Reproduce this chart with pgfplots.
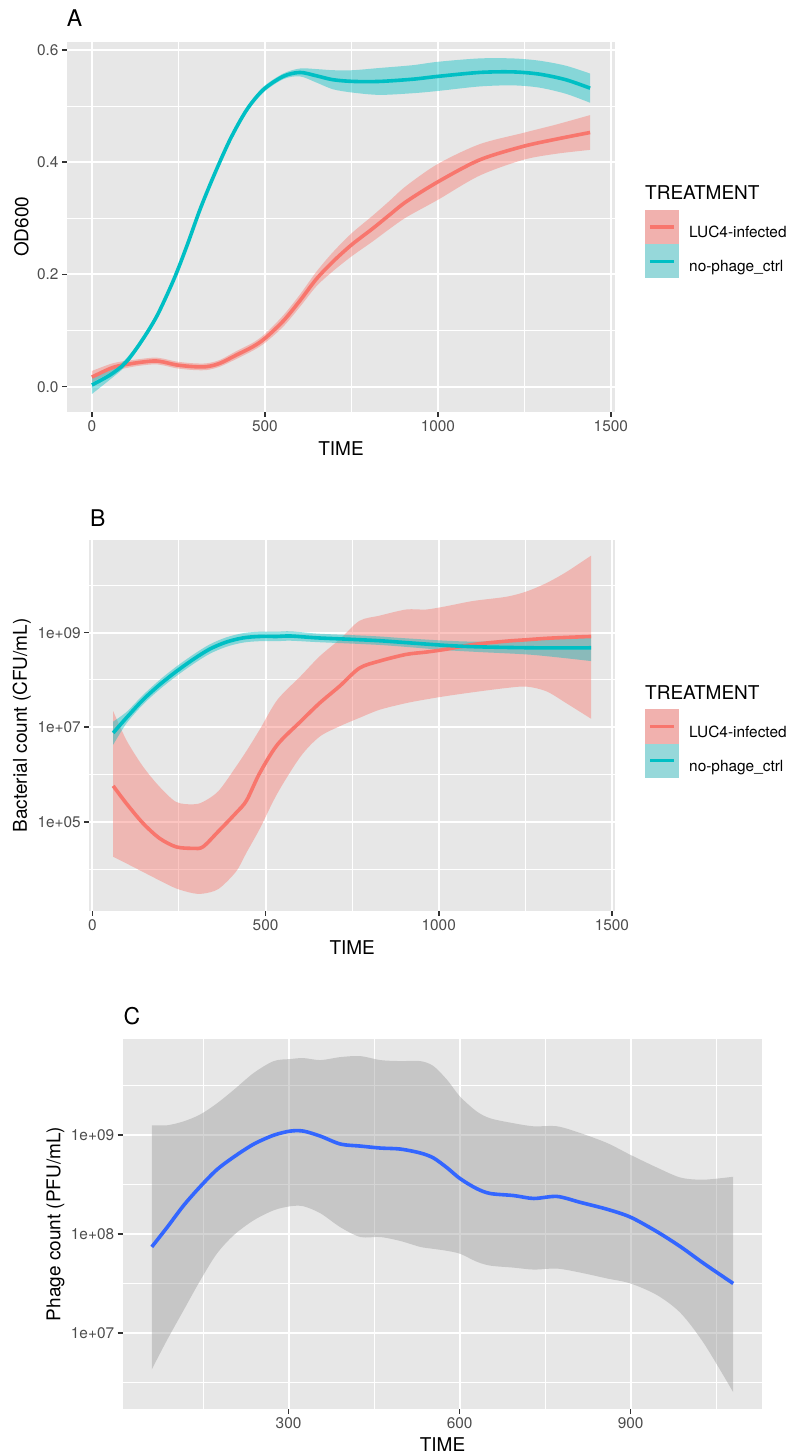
\documentclass[border=0pt]{standalone}
\usepackage{fontspec}
\setmainfont{TeX Gyre Heros}
\usepackage{pgfplots}
\usepackage{pgfplotstable}
\pgfplotsset{compat=1.18}
\usepgfplotslibrary{fillbetween}

\definecolor{panelbg}{HTML}{E7E7E7}
\definecolor{tickgrey}{HTML}{333333}
\definecolor{labgrey}{HTML}{4D4D4D}
\definecolor{infred}{HTML}{F8766D}
\definecolor{ctrlteal}{HTML}{00BFC4}
\definecolor{keyred}{HTML}{F1B1AE}
\definecolor{keyteal}{HTML}{96D8DA}
\definecolor{smoothblue}{HTML}{3366FF}
\definecolor{ribbongrey}{HTML}{999999}

\newcommand{\tickfont}{\fontsize{15.4}{18}\selectfont}
\newcommand{\titlefont}{\fontsize{19}{22}\selectfont}
\newcommand{\tagfont}{\fontsize{23}{27}\selectfont}

% ---- A: OD600 loess fits (x, lower CI, fit, upper CI)
\pgfplotstableread{
x    lo     mid    hi
0    0.007  0.017  0.028
62   0.027  0.0345 0.042
120  0.0357 0.0417 0.0477
178  0.0398 0.0458 0.0518
206  0.038  0.044  0.050
245  0.0327 0.0387 0.0447
293  0.0297 0.0357 0.0417
332  0.0297 0.0357 0.0417
370  0.0357 0.0417 0.0477
418  0.0495 0.0565 0.0635
466  0.0645 0.0715 0.0785
500  0.078  0.086  0.094
553  0.107  0.117  0.127
601  0.142  0.153  0.164
649  0.179  0.192  0.205
697  0.206  0.223  0.240
750  0.232  0.2526 0.273
812  0.259  0.282  0.305
860  0.281  0.306  0.331
909  0.302  0.330  0.358
1000 0.333  0.365  0.397
1120 0.376  0.404  0.432
1245 0.404  0.428  0.452
1341 0.415  0.441  0.467
1440 0.422  0.453  0.484
}\infA

\pgfplotstableread{
x    lo     mid    hi
0    -0.013 0.003  0.018
53   0.013  0.021  0.029
96   0.036  0.042  0.048
139  0.072  0.077  0.082
187  0.120  0.125  0.130
236  0.185  0.190  0.195
274  0.245  0.250  0.255
312  0.310  0.315  0.320
351  0.369  0.374  0.379
399  0.435  0.440  0.445
447  0.488  0.493  0.498
495  0.524  0.529  0.534
553  0.548  0.553  0.558
601  0.553  0.560  0.567
649  0.542  0.554  0.566
697  0.530  0.547  0.564
755  0.524  0.544  0.564
832  0.520  0.544  0.568
928  0.523  0.548  0.573
1000 0.527  0.553  0.579
1120 0.535  0.560  0.585
1216 0.537  0.561  0.585
1293 0.533  0.557  0.581
1370 0.522  0.547  0.572
1440 0.506  0.532  0.558
}\ctrlA

% ---- B: bacterial counts (CFU/mL)
\pgfplotstableread{
x    lo       mid      hi
60   1.82e4   5.75e5   2.19e7
98   1.32e4   2.45e5   5.37e6
146  8.71e3   9.33e4   1.48e6
194  5.75e3   4.47e4   5.50e5
242  3.89e3   2.95e4   2.63e5
290  3.09e3   2.75e4   2.34e5
319  3.02e3   2.95e4   2.63e5
364  3.80e3   6.31e4   4.47e5
415  8.91e3   1.55e5   1.48e6
445  2.24e4   2.82e5   3.16e6
483  7.08e4   1.07e6   8.91e6
534  3.98e5   4.27e6   3.80e7
601  2.40e6   1.32e7   1.20e8
656  6.31e6   3.24e7   3.16e8
714  1.05e7   7.41e7   7.24e8
771  1.58e7   1.78e8   1.78e9
829  2.34e7   2.51e8   2.29e9
906  3.24e7   3.47e8   3.09e9
964  3.89e7   3.89e8   3.09e9
1022 4.57e7   4.47e8   3.63e9
1099 5.50e7   5.62e8   4.68e9
1195 6.76e7   6.61e8   5.75e9
1253 7.24e7   7.08e8   7.41e9
1311 5.75e7   7.59e8   1.12e10
1368 3.24e7   7.94e8   1.91e10
1440 1.51e7   8.32e8   4.27e10
}\infB

\pgfplotstableread{
x    lo       mid      hi
60   4.27e6   7.59e6   1.32e7
98   1.20e7   1.58e7   2.09e7
146  3.02e7   3.80e7   4.79e7
194  6.31e7   7.94e7   1.00e8
242  1.20e8   1.51e8   1.91e8
290  2.14e8   2.69e8   3.39e8
338  3.55e8   4.47e8   5.62e8
386  5.01e8   6.31e8   7.94e8
435  6.17e8   7.76e8   9.77e8
483  6.61e8   8.32e8   1.05e9
534  6.61e8   8.32e8   1.05e9
572  6.76e8   8.51e8   1.07e9
650  6.31e8   7.76e8   9.55e8
746  5.89e8   7.24e8   8.91e8
829  5.50e8   6.76e8   8.32e8
887  5.13e8   6.31e8   7.76e8
1022 4.27e8   5.37e8   6.76e8
1118 3.89e8   5.01e8   6.46e8
1272 3.39e8   4.79e8   6.76e8
1440 2.51e8   4.79e8   8.51e8
}\ctrlB

% ---- C: phage counts (PFU/mL)
\pgfplotstableread{
x    lo       mid      hi
60   4.27e6   7.41e7   1.26e9
87   8.51e6   1.17e8   1.26e9
116  1.70e7   1.95e8   1.38e9
145  3.39e7   3.02e8   1.62e9
174  6.31e7   4.47e8   2.09e9
204  9.77e7   6.03e8   2.88e9
239  1.38e8   8.13e8   4.27e9
274  1.74e8   1.00e9   5.62e9
303  1.91e8   1.10e9   5.89e9
326  1.91e8   1.10e9   6.03e9
356  1.62e8   9.77e8   5.75e9
391  1.17e8   8.13e8   6.17e9
426  9.33e7   7.76e8   6.31e9
461  9.33e7   7.41e8   5.75e9
496  8.51e7   7.24e8   5.62e9
531  7.41e7   6.61e8   5.62e9
554  7.08e7   5.89e8   5.01e9
578  6.76e7   4.68e8   3.63e9
601  6.31e7   3.63e8   2.45e9
630  5.25e7   2.88e8   1.74e9
654  4.79e7   2.57e8   1.48e9
695  4.57e7   2.45e8   1.32e9
730  4.37e7   2.29e8   1.23e9
771  4.47e7   2.40e8   1.23e9
812  4.07e7   2.09e8   1.05e9
859  3.55e7   1.78e8   8.32e8
900  3.16e7   1.48e8   6.31e8
947  2.40e7   1.05e8   4.68e8
988  1.58e7   7.41e7   3.72e8
1029 7.76e6   5.01e7   3.55e8
1080 2.51e6   3.16e7   3.80e8
}\phageC

\pgfplotsset{
  gg/.style={
    scale only axis,
    axis background/.style={fill=panelbg, draw=none},
    axis line style={draw=none},
    tick pos=left,
    tick align=outside,
    major tick length=5pt,
    minor tick length=0pt,
    every tick/.style={tickgrey, line width=1.6pt},
    grid=both,
    major grid style={white, line width=2pt},
    minor grid style={white, line width=1pt},
    tick label style={font=\tickfont, text=labgrey},
    /pgf/number format/assume math mode=true,
    /pgf/number format/1000 sep={},
  },
  fit/.style={smooth, line width=3.6pt},
  band/.style={fill opacity=0.42, draw=none, forget plot},
  ggkey/.style={
    legend style={draw=none, fill=none, inner sep=0pt, outer sep=0pt,
      row sep=0pt, font=\tickfont, anchor=north west,
      nodes={inner sep=0pt, outer sep=0pt},
      /tikz/every odd column/.append style={column sep=10pt}},
    legend cell align=left,
  },
  redkey/.style={legend image code/.code={
    \fill[keyred] (0pt,-9.5pt) rectangle (30.6pt,21.1pt);
    \draw[line width=3.6pt] (3.3pt,5.8pt) -- (27.6pt,5.8pt);}},
  tealkey/.style={legend image code/.code={
    \fill[keyteal] (0pt,-9.5pt) rectangle (30.6pt,21.1pt);
    \draw[line width=3.6pt] (3.3pt,5.8pt) -- (27.6pt,5.8pt);}},
}

\begin{document}
\begin{tikzpicture}

% ================= A =================
\begin{axis}[gg, ggkey,
  at={(67pt,-411.7pt)}, anchor=south west,
  width=548pt, height=370pt,
  xmin=-72, xmax=1512, ymin=-0.0446, ymax=0.6148,
  xtick={0,500,1000,1500}, minor xtick={250,750,1250},
  ytick={0,0.2,0.4,0.6}, minor ytick={0.1,0.3,0.5},
  yticklabel style={/pgf/number format/.cd, fixed, fixed zerofill, precision=1},
  legend style={at={(axis description cs:1.0547,0.5451)}},
]
\addplot[draw=none, smooth, name path=iAup, forget plot] table[x=x, y=hi] {\infA};
\addplot[draw=none, smooth, name path=iAlo, forget plot] table[x=x, y=lo] {\infA};
\addplot[band, fill=infred] fill between[of=iAup and iAlo];
\addplot[fit, infred, redkey] table[x=x, y=mid] {\infA};
\addlegendentry{LUC4-infected}
\addplot[draw=none, smooth, name path=cAup, forget plot] table[x=x, y=hi] {\ctrlA};
\addplot[draw=none, smooth, name path=cAlo, forget plot] table[x=x, y=lo] {\ctrlA};
\addplot[band, fill=ctrlteal] fill between[of=cAup and cAlo];
\addplot[fit, ctrlteal, tealkey] table[x=x, y=mid] {\ctrlA};
\addlegendentry{no-phage\_ctrl}
\end{axis}

% ================= B =================
\begin{axis}[gg, ggkey,
  at={(89.3pt,-910.7pt)}, anchor=south west,
  width=525.7pt, height=370.7pt,
  ymode=log,
  xmin=-9, xmax=1509, ymin=1.318e3, ymax=9.12e10,
  xtick={0,500,1000,1500}, minor xtick={250,750,1250},
  ytick={1e5,1e7,1e9}, yticklabels={1e+05,1e+07,1e+09},
  minor ytick={1e4,1e6,1e8,1e10},
  legend style={at={(axis description cs:1.0571,0.5433)}},
]
\addplot[draw=none, smooth, name path=iBup, forget plot] table[x=x, y=hi] {\infB};
\addplot[draw=none, smooth, name path=iBlo, forget plot] table[x=x, y=lo] {\infB};
\addplot[band, fill=infred] fill between[of=iBup and iBlo];
\addplot[fit, infred, redkey] table[x=x, y=mid] {\infB};
\addlegendentry{LUC4-infected}
\addplot[draw=none, smooth, name path=cBup, forget plot] table[x=x, y=hi] {\ctrlB};
\addplot[draw=none, smooth, name path=cBlo, forget plot] table[x=x, y=lo] {\ctrlB};
\addplot[band, fill=ctrlteal] fill between[of=cBup and cBlo];
\addplot[fit, ctrlteal, tealkey] table[x=x, y=mid] {\ctrlB};
\addlegendentry{no-phage\_ctrl}
\end{axis}

% ================= C =================
\begin{axis}[gg,
  at={(122.7pt,-1409pt)}, anchor=south west,
  width=639.6pt, height=369.7pt,
  ymode=log,
  xmin=9, xmax=1131, ymin=1.698e6, ymax=9.33e9,
  xtick={300,600,900}, minor xtick={150,450,750,1050},
  ytick={1e7,1e8,1e9}, yticklabels={1e+07,1e+08,1e+09},
  minor ytick={3.1623e6,3.1623e7,3.1623e8,3.1623e9},
]
\addplot[draw=none, smooth, name path=pCup] table[x=x, y=hi] {\phageC};
\addplot[draw=none, smooth, name path=pClo] table[x=x, y=lo] {\phageC};
\addplot[band, fill=ribbongrey] fill between[of=pCup and pClo];
\addplot[fit, smoothblue] table[x=x, y=mid] {\phageC};
\end{axis}

% ---- titles and axis names
\node[font=\tagfont, anchor=base west, inner sep=0pt] at (66.7pt,-26.7pt) {A};
\node[font=\tagfont, anchor=base west, inner sep=0pt] at (90pt,-526pt) {B};
\node[font=\tagfont, anchor=base west, inner sep=0pt] at (123.3pt,-1024.3pt) {C};

\node[font=\titlefont, anchor=base, inner sep=0pt] at (341pt,-455pt) {TIME};
\node[font=\titlefont, anchor=base, inner sep=0pt] at (352.2pt,-954pt) {TIME};
\node[font=\titlefont, anchor=base, inner sep=0pt] at (442.5pt,-1451pt) {TIME};

\node[font=\titlefont, anchor=base, rotate=90, inner sep=0pt] at (28.3pt,-226.7pt) {OD600};
\node[font=\titlefont, anchor=base, rotate=90, inner sep=0pt] at (27pt,-725.3pt) {Bacterial count (CFU/mL)};
\node[font=\titlefont, anchor=base, rotate=90, inner sep=0pt] at (60.3pt,-1224pt) {Phage count (PFU/mL)};

\node[font=\titlefont, anchor=base west, inner sep=0pt] at (645pt,-199.3pt) {TREATMENT};
\node[font=\titlefont, anchor=base west, inner sep=0pt] at (645pt,-699pt) {TREATMENT};

% page frame
\pgfresetboundingbox
\useasboundingbox (0pt,0pt) rectangle (788pt,-1455pt);
\end{tikzpicture}
\end{document}
